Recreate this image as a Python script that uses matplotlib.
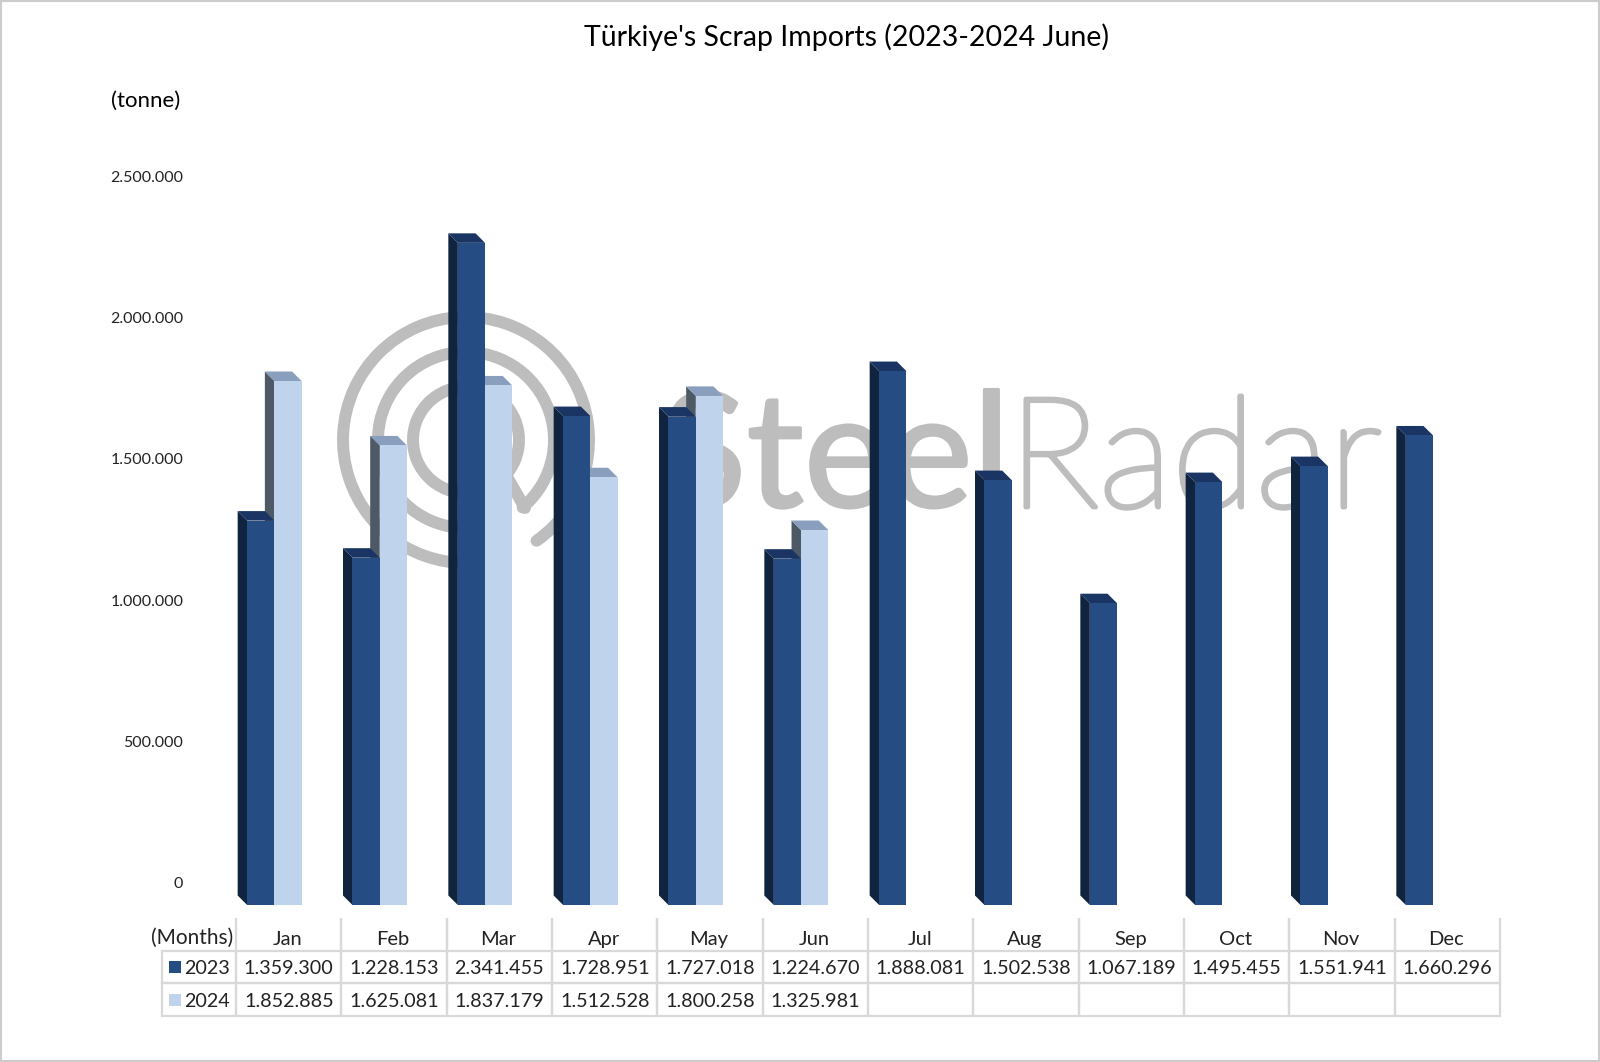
import numpy as np
import matplotlib
matplotlib.use("Agg")
import matplotlib.pyplot as plt
import matplotlib.patheffects as pe
from matplotlib.patches import Arc, Rectangle
from matplotlib.ticker import FuncFormatter

months = ["Jan", "Feb", "Mar", "Apr", "May", "Jun", "Jul", "Aug", "Sep", "Oct", "Nov", "Dec"]
values_2023 = [1359300, 1228153, 2341455, 1728951, 1727018, 1224670,
               1888081, 1502538, 1067189, 1495455, 1551941, 1660296]
values_2024 = [1852885, 1625081, 1837179, 1512528, 1800258, 1325981,
               np.nan, np.nan, np.nan, np.nan, np.nan, np.nan]
y_ticks = [0, 500000, 1000000, 1500000, 2000000, 2500000]

W, H = 1600, 1062
FRONT = {"2023": "#264c84", "2024": "#c0d3ec"}
SIDE = {"2023": "#10233f", "2024": "#4d5965"}
TOP = {"2023": "#1a3564", "2024": "#8a9fbe"}
GRID = "#d9d9d9"
MARK = "#bdbdbd"

plt.rcParams["font.family"] = ["Lato", "DejaVu Sans"]


def dotted(v):
    return f"{int(v):,}".replace(",", ".")


def axes_rect(left, right, top, bottom):
    return [left / W, 1 - bottom / H, (right - left) / W, (bottom - top) / H]


def draw_bar_faces(ax, x, vals, name, width, dx, dy):
    # side and top faces, the front goes on later so it covers them
    for xi, v in zip(x, vals):
        if np.isnan(v):
            continue
        ax.fill([xi, xi - dx, xi - dx, xi], [0, dy, v + dy, v],
                color=SIDE[name], lw=0, zorder=2 if name == "2023" else 1, clip_on=False)
        ax.fill([xi, xi - dx, xi - dx + width, xi + width], [v, v + dy, v + dy, v],
                color=TOP[name], lw=0, zorder=2 if name == "2023" else 1, clip_on=False)


fig = plt.figure(figsize=(W / 100, H / 100), dpi=100, facecolor="white")

# full figure layer in pixels for watermark, border and notes
bg = fig.add_axes([0, 0, 1, 1], zorder=0)
bg.set_xlim(0, W)
bg.set_ylim(H, 0)
bg.axis("off")
bg.add_patch(Rectangle((0, 0), W, H, fill=False, ec="#cccccc", lw=3))

cx, cy = 466, 440
bg.add_patch(Arc((cx, cy), 106, 106, theta1=0, theta2=360, color=MARK, lw=8.6))
bg.add_patch(Arc((cx, cy), 176, 176, theta1=95, theta2=410, color=MARK, lw=8.6, capstyle="round"))
bg.add_patch(Arc((cx, cy), 246, 246, theta1=78, theta2=415, color=MARK, lw=8.6, capstyle="round"))
bg.plot([cx + 40, 525], [cy + 35, 508], color=MARK, lw=8.6, solid_capstyle="round")
bg.text(660, 507, "Steel", color=MARK, fontsize=115, ha="left", va="baseline",
        path_effects=[pe.withStroke(linewidth=2, foreground=MARK)])
bg.text(1008, 507, "Radar", color=MARK, fontsize=111, weight="light", ha="left", va="baseline",
        path_effects=[pe.withStroke(linewidth=3.5, foreground=MARK)])

bg.text(847, 37, "Türkiye's Scrap Imports (2023-2024 June)", fontsize=20.5, ha="center", va="center", color="black")
bg.text(111, 101, "(tonne)", fontsize=16, ha="left", va="center", color="black")
bg.text(233, 938, "(Months)", fontsize=15, ha="right", va="center", color="#222222")
bg.add_patch(Rectangle((169, 961), 12, 12, color=FRONT["2023"], lw=0))
bg.add_patch(Rectangle((169, 994), 12, 12, color=FRONT["2024"], lw=0))

# back wall axis carries the value labels, raised by the chart depth
wall = fig.add_axes(axes_rect(236, 1500, 176, 883), zorder=1, facecolor="none")
wall.set_ylim(0, 2500000)
wall.set_yticks(y_ticks)
wall.yaxis.set_major_formatter(FuncFormatter(lambda v, _: dotted(v)))
wall.tick_params(axis="y", length=0, pad=38, labelsize=11.5, labelcolor="#222222")
wall.set_xticks([])
for s in wall.spines.values():
    s.set_visible(False)

ax = fig.add_axes(axes_rect(236, 1500, 198, 905), zorder=2, facecolor="none")
ax.set_xlim(-0.5, 11.5)
ax.set_ylim(0, 2500000)
ax.set_yticks([])
for s in ax.spines.values():
    s.set_visible(False)
ax.set_xticks(np.arange(12) - 0.01)
ax.set_xticklabels(months)
ax.tick_params(axis="x", length=0, pad=18.5, labelsize=14.5, labelcolor="#222222")

width = 27.2 / 105.33
shift = 14.3 / 105.33
dx = 9.5 / 105.33
dy = 9.5 / 707 * 2500000
x = np.arange(12) - shift

draw_bar_faces(ax, x - width, values_2023, "2023", width, dx, dy)
draw_bar_faces(ax, x, values_2024, "2024", width, dx, dy)
ax.bar(x - width, values_2023, width, align="edge", color=FRONT["2023"], lw=0, zorder=3)
ax.bar(x, values_2024, width, align="edge", color=FRONT["2024"], lw=0, zorder=4)

# data table under the chart
rows = [[""] * 13,
        ["2023"] + [dotted(v) for v in values_2023],
        ["2024"] + ["" if np.isnan(v) else dotted(v) for v in values_2024]]
tbl = ax.table(cellText=rows, colWidths=[74] + [105.33] * 12, cellLoc="center", zorder=5,
               bbox=[(162 - 236) / 1264, (905 - 1016) / 707, 1338 / 1264, 98 / 707])
tbl.auto_set_font_size(False)
tbl.set_fontsize(14.2)
for (r, c), cell in tbl.get_celld().items():
    cell.set_edgecolor(GRID)
    cell.set_linewidth(1.6)
    cell.set_facecolor("none")
    cell.get_text().set_color("#222222")
    cell.get_text().set_va("center_baseline")
    if r == 0:
        cell.visible_edges = "" if c == 0 else "LR"
    if c == 0 and r > 0:
        cell.get_text().set_ha("right")
        cell.PAD = 0.08
        cell._loc = "right"

fig.savefig("out.png", dpi=100)
